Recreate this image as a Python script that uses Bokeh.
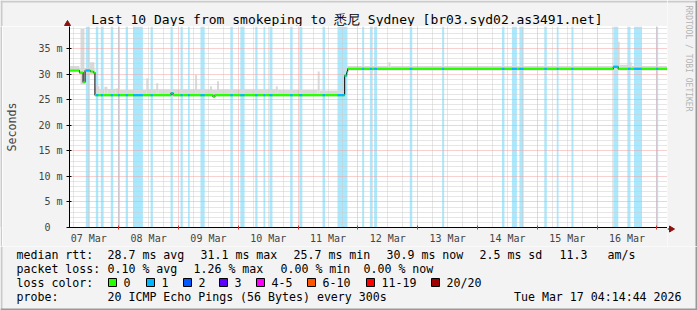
import math
from bokeh.plotting import figure
from bokeh.layouts import row, column
from bokeh.models import Range1d, FixedTicker
from bokeh.core.properties import value
from bokeh.embed import file_html
from bokeh.resources import INLINE

# ---------------- data (x in hours since 07 Mar 2026 00:00, y in ms) ----------------
window_start = 4.2456          # Sat Mar 07 04:14:44
window_end = 244.2456          # Tue Mar 17 04:14:44
y_top = 39.3

day_labels = ["07 Mar", "08 Mar", "09 Mar", "10 Mar", "11 Mar",
              "12 Mar", "13 Mar", "14 Mar", "15 Mar", "16 Mar"]
y_ticks = [0, 5, 10, 15, 20, 25, 30, 35]
y_tick_labels = ["0\u00a0\u00a0", "5 m", "10 m", "15 m", "20 m", "25 m", "30 m", "35 m"]

# periods with packet loss (1/20)
loss_start = [10.8, 14.8, 16.8, 20.8, 23.7, 26.8, 29.8, 36.8, 44.8, 48.8, 51.8, 56.8,
              68.8, 72.8, 78.8, 82.1, 84.5, 92.8, 96.5, 105.8, 111.8, 121.7, 124.8, 126.5,
              140.8, 153.8, 177.8, 181.8, 184.8, 194.8, 199.8, 205.7, 222.5, 228.4, 230.8, 239.7]
loss_end = [12.4, 15.8, 17.7, 21.8, 24.5, 27.7, 33.7, 37.7, 45.7, 49.7, 52.5, 58.5,
            69.8, 74.5, 79.7, 82.8, 85.7, 93.8, 97.7, 106.8, 115.8, 122.5, 125.7, 127.7,
            141.8, 154.6, 178.8, 183.8, 186.5, 195.8, 200.5, 206.5, 224.5, 229.4, 233.9, 240.5]

# median rtt (step function: value holds from time until next time)
med_t = [4.25, 8.25, 9.7, 10.5, 12.65, 13.85, 14.45, 45.0, 45.8, 61.8, 62.6,
         114.65, 115.45, 115.85, 222.5, 224.5, 244.25]
med_v = [30.7, 30.3, 28.4, 30.7, 30.5, 30.3, 25.9, 26.3, 25.9, 25.6, 25.9,
         29.7, 30.4, 31.0, 31.4, 31.0]

# smoke (min / max of the pings), step segments
smoke_t = [4.25, 8.25, 8.65, 10.25, 12.25, 14.25, 14.65, 16.25, 18.25, 19.45, 22.65, 24.25,
           35.05, 35.85, 39.05, 39.85, 54.65, 55.45, 60.65, 61.45, 63.45, 64.25, 87.05, 87.85,
           103.85, 104.65, 114.65, 115.85, 132.25, 133.05, 224.25, 225.05, 229.05, 229.85, 244.25]
smoke_hi = [31.6, 31.2, 38.8, 31.2, 32.3, 31.0, 27.6, 27.0, 27.5, 27.1, 27.2, 26.9,
            29.2, 27.0, 28.2, 27.0, 29.8, 27.0, 27.6, 26.9, 28.6, 27.0, 27.6, 26.9,
            30.5, 26.8, 31.0, 31.6, 32.3, 31.6, 36.3, 31.8, 32.3, 31.6]
smoke_lo = [30.4, 30.0, 28.0, 30.2, 30.0, 29.8] + [25.6] * 20 + [29.5] + [30.7] * 7

loss_labels = ["0", "1", "2", "3", "4-5", "6-10", "11-19", "20/20"]
loss_colors = ["#26ff00", "#00b8ff", "#0059ff", "#5e00ff", "#ff00fe", "#ff5500", "#ff0000", "#a10000"]

title_text = "Last 10 Days from smokeping to 悉尼 Sydney [br03.syd02.as3491.net]"
row_rtt = ["median rtt:", "28.7 ms avg", "31.1 ms max", "25.7 ms min",
           "30.9 ms now", "2.5 ms sd", "11.3", "am/s"]
row_loss = ["packet loss:", "0.10 % avg", "1.26 % max", "0.00 % min", "0.00 % now"]
probe_text = "20 ICMP Echo Pings (56 Bytes) every 300s"
date_text = "Tue Mar 17 04:14:44 2026"

# ---------------- styling / layout constants (pixels) ----------------
FONT = "DejaVu Sans Mono"
BACK = "#f3f3f3"
SHADE_A = "#cbcbcb"
SHADE_B = "#999999"
ARROW = "#8b1010"
W, H = 697, 310
TOP_H = 26          # strip above the plot frame
MAIN_H = 220        # plot frame (202) + x axis labels (18)
FRAME_R = 667       # right edge of the plot frame
STRIP_W = W - FRAME_R
LEG_H = H - TOP_H - MAIN_H
AX_Y = TOP_H + 202  # canvas y of the x axis


def canvas_fig(w, h):
    """A figure whose frame is the whole figure, with pixel coordinates (y down)."""
    f = figure(width=w, height=h, x_range=Range1d(0, w), y_range=Range1d(h, 0),
               output_backend="svg", toolbar_location=None, title=None,
               x_axis_location=None, y_axis_location=None,
               min_border_left=0, min_border_right=0, min_border_top=0, min_border_bottom=0,
               background_fill_color=BACK, border_fill_color=BACK, outline_line_color=None)
    f.grid.visible = False
    return f


def txt(f, x, y, text, size="11.6px", color="black", align="left", angle=0.0):
    f.text(x=[x], y=[y], text=[text], text_font=value(FONT), text_font_size=value(size),
           text_color=color, text_align=align, text_baseline="middle", angle=angle)


# ---------------- main plot ----------------
p = figure(width=FRAME_R - 2, height=MAIN_H, x_range=Range1d(window_start, window_end),
           y_range=Range1d(0, y_top), output_backend="svg", toolbar_location=None, title=None,
           min_border_left=65, min_border_right=0, min_border_top=0, min_border_bottom=18,
           background_fill_color="white", border_fill_color=BACK, outline_line_color=None)

r = p.quad(left=loss_start, right=loss_end, bottom=0, top=y_top,
           fill_color="#aae8fd", line_color=None)
r.level = "image"

r = p.quad(left=smoke_t[:-1], right=smoke_t[1:], bottom=smoke_lo, top=smoke_hi,
           fill_color="#d9d9d9", line_color=None)
r.level = "image"

p.step(x=med_t, y=med_v + [med_v[-1]], mode="after", line_color="#222222", line_width=1.2)
p.segment(x0=med_t[:-1], x1=med_t[1:], y0=med_v, y1=med_v, line_color=loss_colors[0], line_width=2.2)

bx0, bx1, by = [], [], []
for a, b in zip(loss_start, loss_end):
    for i in range(len(med_v)):
        s, e = max(a, med_t[i]), min(b, med_t[i + 1])
        if e > s:
            bx0.append(s); bx1.append(e); by.append(med_v[i])
p.segment(x0=bx0, x1=bx1, y0=by, y1=by, line_color=loss_colors[1], line_width=2.2)

noons = [12 + 24 * i for i in range(len(day_labels))]
midnights = [24 * i for i in range(1, 11)]
six_h = [h for h in range(6, 244, 6) if h % 24]

xa = p.xaxis[0]
xa.ticker = FixedTicker(ticks=noons, minor_ticks=midnights)
xa.major_label_overrides = {n: l for n, l in zip(noons, day_labels)}
xa.major_tick_in = 0
xa.major_tick_out = 0
xa.minor_tick_in = 2
xa.minor_tick_out = 2
xa.minor_tick_line_color = "#cc3333"
xa.major_label_standoff = 3
xa.major_label_text_font = FONT
xa.major_label_text_font_size = "10px"
xa.axis_line_color = "black"

ya = p.yaxis[0]
ya.ticker = FixedTicker(ticks=y_ticks, minor_ticks=[])
ya.major_label_overrides = {t: l for t, l in zip(y_ticks, y_tick_labels)}
ya.major_tick_in = 2
ya.major_tick_out = 3
ya.major_label_standoff = 4
ya.major_label_text_font = FONT
ya.major_label_text_font_size = "10px"
ya.axis_line_color = "black"
ya.axis_label = "Seconds"
ya.axis_label_text_font = FONT
ya.axis_label_text_font_size = "11.6px"
ya.axis_label_text_font_style = "normal"
ya.axis_label_standoff = 16

p.xgrid[0].ticker = FixedTicker(ticks=midnights, minor_ticks=six_h)
p.ygrid[0].ticker = FixedTicker(ticks=[5, 10, 15, 20, 25, 30, 35],
                                minor_ticks=[v for v in range(1, 40) if v % 5])
for g in (p.xgrid[0], p.ygrid[0]):
    g.grid_line_color = "#f0a0a0"
    g.grid_line_dash = "1 1"
    g.minor_grid_line_color = "#cccccc"
    g.minor_grid_line_dash = "1 1"
    g.level = "underlay"

# ---------------- left shade strip next to the main plot ----------------
left = figure(width=2, height=MAIN_H, output_backend="svg", toolbar_location=None, title=None,
              x_axis_location=None, y_axis_location=None,
              min_border_left=0, min_border_right=0, min_border_top=0, min_border_bottom=0,
              background_fill_color=SHADE_A, border_fill_color=SHADE_A, outline_line_color=None)
left.grid.visible = False

# ---------------- top strip: title + y axis arrow ----------------
top = canvas_fig(FRAME_R, TOP_H)
top.quad(left=0, right=FRAME_R, top=0, bottom=2, fill_color=SHADE_A, line_color=None)
top.quad(left=0, right=2, top=0, bottom=TOP_H, fill_color=SHADE_A, line_color=None)
top.segment(x0=67, y0=22, x1=67, y1=TOP_H, line_color="black", line_width=1)
top.patch(x=[64, 67, 70], y=[25, 20, 25], fill_color=ARROW, line_color=ARROW)
txt(top, 346.5, 18.5, title_text, size="13px", align="center")

# ---------------- right strip: x axis arrow + watermark ----------------
strip = canvas_fig(STRIP_W, TOP_H + MAIN_H)
strip.quad(left=0, right=STRIP_W, top=0, bottom=2, fill_color=SHADE_A, line_color=None)
strip.quad(left=STRIP_W - 2, right=STRIP_W, top=0, bottom=TOP_H + MAIN_H, fill_color=SHADE_B,
           line_color=None)
strip.segment(x0=0, y0=AX_Y + 0.5, x1=3, y1=AX_Y + 0.5, line_color="black", line_width=1)
strip.patch(x=[2, 7, 2], y=[AX_Y - 2.5, AX_Y + 0.5, AX_Y + 3.5], fill_color=ARROW, line_color=ARROW)
txt(strip, 688 - FRAME_R, 5, "RRDTOOL / TOBI OETIKER", size="8px", color="#b4b4b4",
    angle=-math.pi / 2)

# ---------------- bottom: legend ----------------
leg = canvas_fig(W, LEG_H)
oy = TOP_H + MAIN_H
leg.quad(left=0, right=2, top=0, bottom=LEG_H, fill_color=SHADE_A, line_color=None)
leg.quad(left=0, right=W, top=LEG_H - 2, bottom=LEG_H, fill_color=SHADE_B, line_color=None)
leg.quad(left=W - 2, right=W, top=0, bottom=LEG_H, fill_color=SHADE_B, line_color=None)

for t, x in zip(row_rtt, [16, 107, 200, 293, 386, 479, 559, 607]):
    txt(leg, x, 254 - oy, t)
for t, x in zip(row_loss, [16, 107, 193, 280, 363]):
    txt(leg, x, 268 - oy, t)
txt(leg, 16, 282 - oy, "loss color:")
box_x = [108, 146, 183, 219, 256, 307, 366, 431]
leg.quad(left=box_x, right=[b + 8 for b in box_x], top=278 - oy, bottom=286 - oy,
         fill_color=loss_colors, line_color="black", line_width=1)
for bxp, l in zip(box_x, loss_labels):
    txt(leg, bxp + 15, 282 - oy, l)
txt(leg, 16, 296 - oy, "probe:")
txt(leg, 107, 296 - oy, probe_text)
txt(leg, 681, 296 - oy, date_text, align="right")

layout = column(row(column(top, row(left, p, spacing=0), spacing=0), strip, spacing=0),
                leg, spacing=0)

open("out.html", "w").write(file_html(layout, INLINE))
